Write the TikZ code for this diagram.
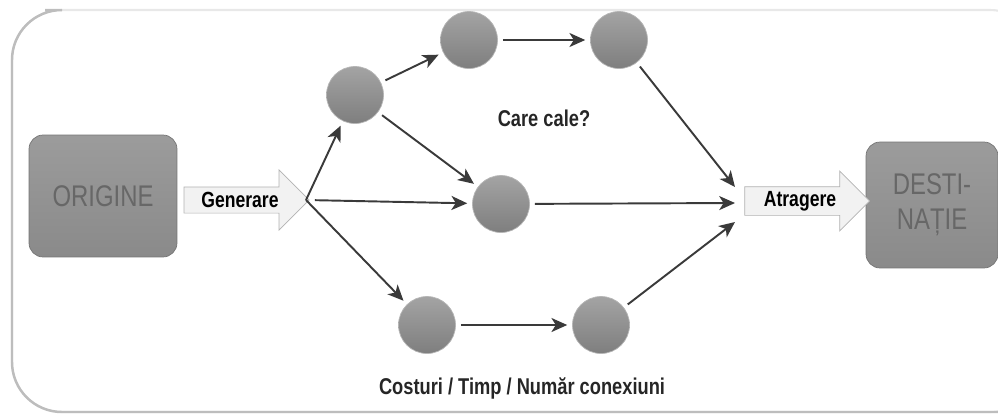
\documentclass[tikz,border=0pt]{standalone}
\usepackage{fontspec}
\setmainfont{Liberation Sans}
\newfontfamily\RutaNarrow[FakeStretch=0.8]{Liberation Sans}
\usetikzlibrary{arrows.meta,calc,positioning,shapes.arrows}
\definecolor{RutaBox}{HTML}{8A8A8A}
\definecolor{RutaBoxText}{HTML}{676767}
\definecolor{RutaDot}{HTML}{858585}
\definecolor{RutaLine}{HTML}{3A3A3A}
\definecolor{RutaFrame}{HTML}{BDBDBD}
\definecolor{RutaPale}{HTML}{F2F2F2}
\tikzset{
  endbox/.style={draw=RutaBox!85!black,top color=RutaBox!85,bottom color=RutaBox,
    rounded corners=8pt,font=\RutaNarrow\fontsize{17}{20}\selectfont,
    text=RutaBoxText,align=center},
  blockarrow/.style={single arrow,draw=gray!60,fill=RutaPale,
    single arrow head extend=0.3cm,minimum height=2.5cm,minimum width=1.2cm,
    inner xsep=0pt,inner ysep=2pt,font=\RutaNarrow\bfseries\fontsize{12.5}{14}\selectfont},
  hop/.style={circle,minimum size=1.14cm,inner sep=0pt,outer sep=3pt,
    top color=RutaDot!75,bottom color=RutaDot!95!black,draw=RutaDot!60},
  link/.style={draw=RutaLine,line width=1.1pt,-{Stealth[length=9pt,width=8pt,inset=2.5pt]}},
  note/.style={font=\RutaNarrow\bfseries\fontsize{13}{15}\selectfont,text=black!85}
}
\begin{document}
\begin{tikzpicture}[x=0.02cm,y=-0.02cm]
  \useasboundingbox (0,0) rectangle (998,417);
  \clip (0,0) rectangle (998,417);
  % outer frame, faint on top
  \draw[RutaFrame!35,line width=1.2pt,rounded corners=1cm] (12,10) rectangle (1040,412);
  \draw[RutaFrame,line width=1.4pt,rounded corners=1cm] (45,10) -- (12,10) -- (12,412) -- (1040,412);
  % origin and destination
  \node[endbox,minimum width=2.96cm,minimum height=2.44cm] (orig) at (103,196) {ORIGINE};
  \node[endbox,minimum width=2.64cm,minimum height=2.52cm] (dest) at (932,205) {DESTI-\\NAȚIE};
  \node[blockarrow] (gen) at (240,200) {Generare};
  \node[blockarrow] (att) at (800,201) {Atragere};
  % route nodes
  \node[hop] (h1) at (355,95) {};
  \node[hop] (h2) at (469,40) {};
  \node[hop] (h3) at (619,40) {};
  \node[hop] (h4) at (501,204) {};
  \node[hop] (h5) at (427,325) {};
  \node[hop] (h6) at (601,325) {};
  \coordinate (split) at (306,200);
  \coordinate (inTop) at (735,187);
  \coordinate (inMid) at (735,203);
  \coordinate (inLow) at (735,222);
  % connections
  \draw[link] (split) -- (h1);
  \draw[link] (h1) -- (h2);
  \draw[link] (h2) -- (h3);
  \draw[link] (h1) -- (h4);
  \draw[link,shorten <=5pt] (split) -- (h4);
  \draw[link] (split) -- (h5);
  \draw[link] (h5) -- (h6);
  \draw[link] (h3) -- (inTop);
  \draw[link] (h4) -- (inMid);
  \draw[link] (h6) -- (inLow);
  \node[note] (q) at (544,118) {Care cale?};
  \node[note] (cost) at (522,388) {Costuri / Timp / Număr conexiuni};
\end{tikzpicture}
\end{document}
